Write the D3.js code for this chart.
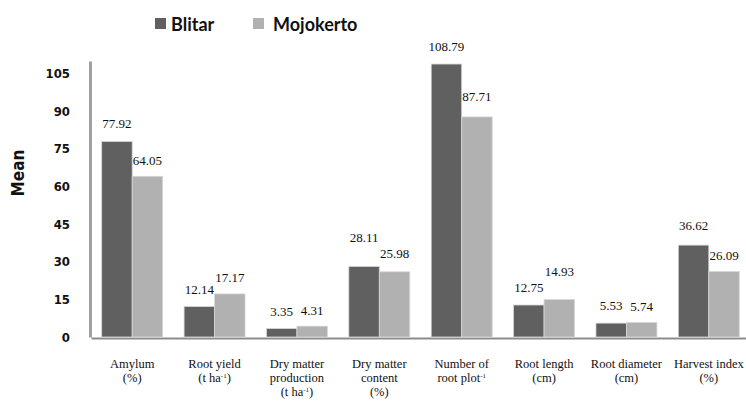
<!DOCTYPE html>
<html>
<head>
<meta charset="utf-8">
<script src="https://cdn.jsdelivr.net/npm/d3@7"></script>
<style>
  body { margin: 0; background: #fff; }
  .ytick text { font-family: "DejaVu Sans Condensed", "DejaVu Sans", sans-serif; font-weight: bold; font-size: 13px; fill: #111; }
  .val { font-family: "Liberation Serif", "Times New Roman", serif; font-size: 13px; fill: #111; }
  .cat { font-family: "Liberation Serif", "Times New Roman", serif; font-size: 12.5px; fill: #111; }
</style>
</head>
<body>
<svg width="746" height="403"></svg>
<script>
// data
const categories = ["Amylum", "Root yield", "Dry matter production", "Dry matter content",
  "Number of root", "Root length", "Root diameter", "Harvest index"];
// label lines, {..} = superscript
const categoryLabels = [
  ["Amylum", "(%)"],
  ["Root yield", "(t ha{-1})"],
  ["Dry matter", "production", "(t ha{-1})"],
  ["Dry matter", "content", "(%)"],
  ["Number of", "root plot{-1}"],
  ["Root length", "(cm)"],
  ["Root diameter", "(cm)"],
  ["Harvest index", "(%)"]
];
const seriesNames = ["Blitar", "Mojokerto"];
const blitar = [77.92, 12.14, 3.35, 28.11, 108.79, 12.75, 5.53, 36.62];
const mojokerto = [64.05, 17.17, 4.31, 25.98, 87.71, 14.93, 5.74, 26.09];
const yTicks = [0, 15, 30, 45, 60, 75, 90, 105];

const colors = { Blitar: "#606060", Mojokerto: "#b1b1b1" };
// a few value labels sit higher above their bar in the original
const labelGap = { Blitar: 13, Mojokerto: 11.5 };
const labelLift = { "Dry matter content|Blitar": 11, "Number of root|Mojokerto": 4,
  "Root length|Mojokerto": 12, "Harvest index|Blitar": 2, "Dry matter content|Mojokerto": 2.5 };

let svg = d3.select("svg");

// table for the grouped bars
let rows = categories.map(function(c, i) {
  return { cat: c, Blitar: blitar[i], Mojokerto: mojokerto[i] };
});

//scales
let x0 = d3.scaleBand().domain(categories).range([91, 750]).paddingInner(0.26).paddingOuter(0.13);
let x1 = d3.scaleBand().domain(seriesNames).range([0, x0.bandwidth()]);
let y = d3.scaleLinear().domain([0, 110]).range([337, 61]);

// x axis line
let xAxis = svg.append("g")
  .attr("transform", "translate(0,338)")
  .call(d3.axisBottom(x0).tickSize(0).tickSizeOuter(0).tickFormat(""));
xAxis.select(".domain").attr("stroke", "#8c8c8c").attr("stroke-width", 2);

// y axis
let yAxis = svg.append("g")
  .attr("class", "ytick")
  .attr("transform", "translate(90,0)")
  .call(d3.axisLeft(y).tickValues(yTicks).tickSize(0).tickSizeOuter(0).tickPadding(20));
yAxis.select(".domain").attr("stroke", "#a0a0a0").attr("stroke-width", 3);
yAxis.selectAll("text").attr("dy", "0.32em");

// bars
let groups = svg.selectAll(".grp")
  .data(rows)
  .enter()
  .append("g")
  .attr("class", "grp")
  .attr("transform", function(d) { return "translate(" + x0(d.cat) + ",0)"; });

function pairs(d) {
  return seriesNames.map(function(s) { return { cat: d.cat, s: s, v: d[s] }; });
}

groups.selectAll("rect")
  .data(pairs)
  .enter()
  .append("rect")
  .attr("x", function(d) { return x1(d.s); })
  .attr("y", function(d) { return y(d.v); })
  .attr("width", x1.bandwidth())
  .attr("height", function(d) { return y(0) - y(d.v); })
  .attr("fill", function(d) { return colors[d.s]; })
  .attr("stroke", "#d6d6d6")
  .attr("stroke-width", 0.8);

// value labels
groups.selectAll(".val")
  .data(pairs)
  .enter()
  .append("text")
  .attr("class", "val")
  .attr("x", function(d) { return x1(d.s) + x1.bandwidth() / 2; })
  .attr("y", function(d) {
    return y(d.v) - labelGap[d.s] - (labelLift[d.cat + "|" + d.s] || 0);
  })
  .attr("text-anchor", "middle")
  .text(function(d) { return d.v.toFixed(2); });

// category labels, multi line with superscripts
categories.forEach(function(c, i) {
  let cx = x0(c) + x0.bandwidth() / 2;
  categoryLabels[i].forEach(function(line, j) {
    let t = svg.append("text")
      .attr("class", "cat")
      .attr("text-anchor", "middle")
      .attr("x", cx)
      .attr("y", 368 + j * 14);
    let parts = line.split(/[{}]/);
    parts.forEach(function(p, k) {
      if (p == "") return;
      let ts = t.append("tspan").text(p);
      if (k % 2 == 1) {
        ts.attr("font-size", "7px").attr("dy", -4.5);
      } else if (k > 0) {
        ts.attr("dy", 4.5);
      }
    });
  });
});

// y title
svg.append("text")
  .attr("transform", "translate(24,173) rotate(-90)")
  .attr("text-anchor", "middle")
  .style("font-family", "'Liberation Sans Narrow', 'DejaVu Sans Condensed', sans-serif")
  .style("font-weight", "bold")
  .style("font-size", "17px")
  .attr("fill", "#111")
  .text("Mean");

// legend
let legendX = [155, 253];
seriesNames.forEach(function(s, i) {
  svg.append("rect")
    .attr("x", legendX[i])
    .attr("y", 18)
    .attr("width", 11)
    .attr("height", 11)
    .attr("fill", colors[s]);
  svg.append("text")
    .attr("x", legendX[i] + (i == 0 ? 16 : 20))
    .attr("y", 30.5)
    .style("font-family", "Lato, 'Open Sans', sans-serif")
    .style("font-weight", "bold")
    .style("font-size", "18px")
    .attr("fill", "#111")
    .text(s);
});
</script>
</body>
</html>
